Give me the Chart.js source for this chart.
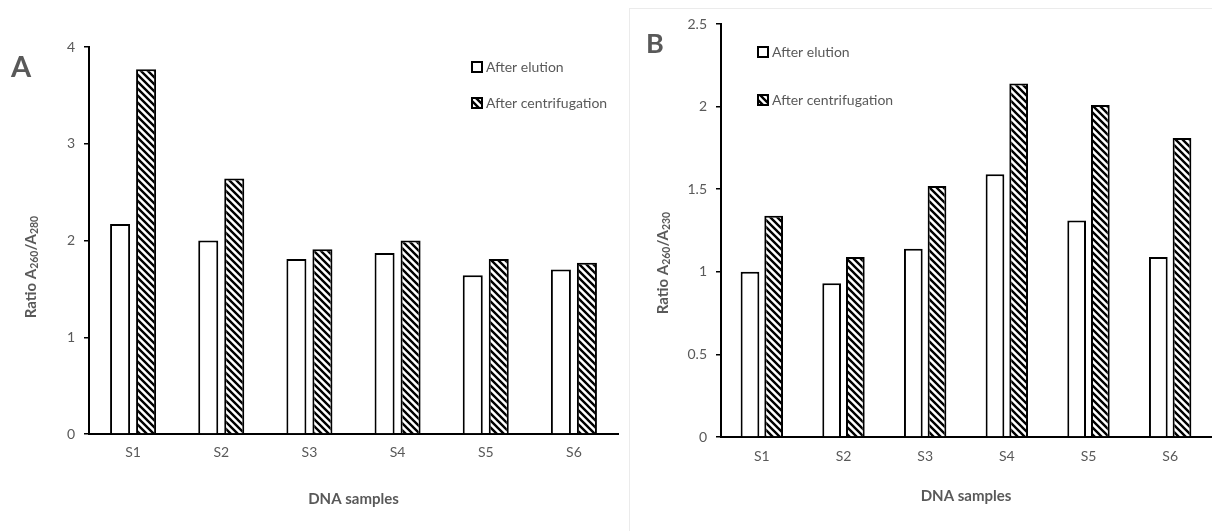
<!DOCTYPE html>
<html>
<head>
<meta charset="utf-8">
<script src="https://cdn.jsdelivr.net/npm/chart.js@4.4.1/dist/chart.umd.min.js"></script>
<style>
  html, body { margin: 0; padding: 0; background: #fff; }
  body { width: 1212px; height: 531px; position: relative; overflow: hidden; }
  #frameB { position: absolute; left: 629px; top: 8px; width: 600px; height: 600px;
            border-top: 1px solid #ebebeb; border-left: 1px solid #ebebeb; }
  #chartA { position: absolute; left: 0; top: 0; }
  #chartB { position: absolute; left: 630px; top: 0; }
</style>
</head>
<body>
<div id="frameB"></div>
<canvas id="chartA" width="620" height="531"></canvas>
<canvas id="chartB" width="582" height="531"></canvas>
<script>
// data
const samples = ["S1", "S2", "S3", "S4", "S5", "S6"];
const seriesNames = ["After elution", "After centrifugation"];
const a280Elution = [2.17, 2.00, 1.81, 1.87, 1.64, 1.70];
const a280Centrifugation = [3.77, 2.64, 1.91, 2.00, 1.81, 1.77];
const a230Elution = [1.00, 0.93, 1.14, 1.59, 1.31, 1.09];
const a230Centrifugation = [1.34, 1.09, 1.52, 2.14, 2.01, 1.81];

const gray = "#595959";
const fontName = "Lato, 'Open Sans', sans-serif";
Chart.defaults.font.family = fontName;
Chart.defaults.color = gray;

function makeHatch() {
  const size = 7;
  const c = document.createElement("canvas");
  c.width = size; c.height = size;
  const g = c.getContext("2d");
  g.fillStyle = "#fff";
  g.fillRect(0, 0, size, size);
  g.strokeStyle = "#000";
  g.lineWidth = 2.4;
  g.beginPath();
  for (const a of [-size, 0, size]) {
    g.moveTo(a - 1, -1);
    g.lineTo(a + size + 1, size + 1);
  }
  g.stroke();
  return g.createPattern(c, "repeat");
}
const hatch = makeHatch();

// panel letter, y title with subscripts, legend
const decor = {
  id: "decor",
  afterDraw(chart, args, o) {
    const ctx = chart.ctx;
    ctx.save();
    ctx.fillStyle = gray;
    ctx.font = `bold ${o.letterSize}px ${fontName}`;
    ctx.textBaseline = "alphabetic";
    ctx.textAlign = "left";
    ctx.fillText(o.letter, o.letterX, o.letterY);

    // rotated y title
    const parts = [["Ratio A", 15, 0], [o.sub1, 10.5, 4], ["/A", 15, 0], [o.sub2, 10.5, 4]];
    let total = 0;
    parts.forEach(p => { ctx.font = `bold ${p[1]}px ${fontName}`; total += ctx.measureText(p[0]).width; });
    ctx.translate(o.titleX, o.titleY);
    ctx.rotate(-Math.PI / 2);
    ctx.textBaseline = "middle";
    let x = -total / 2;
    parts.forEach(p => {
      ctx.font = `bold ${p[1]}px ${fontName}`;
      ctx.fillText(p[0], x, p[2]);
      x += ctx.measureText(p[0]).width;
    });
    ctx.setTransform(1, 0, 0, 1, 0, 0);

    // legend
    chart.data.datasets.forEach((ds, i) => {
      const y = o.legendY[i];
      ctx.fillStyle = ds.backgroundColor;
      ctx.fillRect(o.legendX, y - 5, 10, 10);
      ctx.strokeStyle = "#000";
      ctx.lineWidth = 2;
      ctx.strokeRect(o.legendX, y - 5, 10, 10);
      ctx.fillStyle = gray;
      ctx.font = `14px ${fontName}`;
      ctx.textBaseline = "middle";
      ctx.fillText(ds.label, o.legendX + 14, y);
    });
    ctx.restore();
  }
};

function makeChart(id, elution, centri, cfg) {
  return new Chart(document.getElementById(id), {
    type: "bar",
    data: {
      labels: samples,
      datasets: [
        { label: seriesNames[0], data: elution, backgroundColor: "#fff", borderColor: "#000",
          borderWidth: 2, categoryPercentage: cfg.catPct, barPercentage: cfg.barPct },
        { label: seriesNames[1], data: centri, backgroundColor: hatch, borderColor: "#000",
          borderWidth: 2, categoryPercentage: cfg.catPct, barPercentage: cfg.barPct }
      ]
    },
    options: {
      responsive: false,
      animation: false,
      devicePixelRatio: 1,
      layout: { padding: { top: cfg.top, right: cfg.right, left: 0, bottom: 0 } },
      plugins: {
        legend: { display: false },
        tooltip: { enabled: false },
        decor: cfg.decor
      },
      scales: {
        x: {
          afterFit: s => { s.height = cfg.xHeight; },
          grid: { display: true, drawOnChartArea: false, drawTicks: false },
          border: { color: "#000", width: 2 },
          ticks: { padding: cfg.xPad, font: { size: 14 }, color: gray },
          title: { display: true, text: "DNA samples", color: gray,
                   font: { size: 15, weight: "bold" }, padding: { top: 0, bottom: cfg.titlePad } }
        },
        y: {
          min: 0, max: cfg.max,
          afterFit: s => { s.width = cfg.yWidth; },
          grid: { drawOnChartArea: false, drawTicks: true, tickLength: 5, color: "#000", lineWidth: 1.5 },
          border: { color: "#000", width: 2 },
          ticks: { stepSize: cfg.step, padding: cfg.yPad, font: { size: 14 }, color: gray,
                   callback: v => String(Number(v.toFixed(1))) }
        }
      }
    },
    plugins: [decor]
  });
}

makeChart("chartA", a280Elution, a280Centrifugation, {
  catPct: 0.59, barPct: 0.77, top: 47, right: 2, xHeight: 97, xPad: 10, titlePad: 23,
  yWidth: 89, yPad: 9, max: 4, step: 1,
  decor: { letter: "A", letterSize: 29, letterX: 11, letterY: 77, sub1: "260", sub2: "280",
           titleX: 31, titleY: 267, legendX: 472, legendY: [67, 103] }
});

makeChart("chartB", a230Elution, a230Centrifugation, {
  catPct: 0.58, barPct: 0.79, top: 24, right: 1, xHeight: 94, xPad: 11, titlePad: 26,
  yWidth: 91, yPad: 9, max: 2.5, step: 0.5,
  decor: { letter: "B", letterSize: 27, letterX: 16, letterY: 53, sub1: "260", sub2: "230",
           titleX: 33, titleY: 263, legendX: 128, legendY: [52, 100] }
});
</script>
</body>
</html>
